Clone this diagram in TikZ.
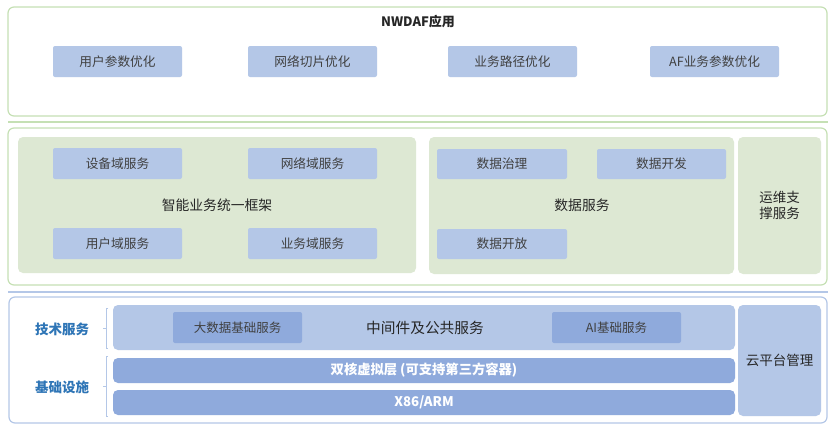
\documentclass[tikz,border=0pt]{standalone}
\usepackage{fontspec}
\setmainfont{Noto Sans CJK SC}
\definecolor{bluelt}{HTML}{B4C7E7}
\definecolor{bluemid}{HTML}{8FAADC}
\definecolor{greenfill}{HTML}{DDE8D3}
\definecolor{greenline}{HTML}{C5E0B4}
\definecolor{blueline}{HTML}{B4C7E7}
\definecolor{labelblue}{HTML}{2E75B6}
\definecolor{txt}{HTML}{404040}
\definecolor{txtdark}{HTML}{262626}
\begin{document}
\begin{tikzpicture}[x=1pt,y=-1pt,
  panel/.style={draw=#1, line width=1.2pt, fill=white, rounded corners=6pt, inner sep=0pt},
  bbox/.style={fill=bluelt, rounded corners=2pt, minimum width=129pt, minimum height=31pt, inner sep=0pt, text=txt, font=\fontsize{12.7}{14}\selectfont},
  mbox/.style={fill=bluemid, rounded corners=2pt, minimum width=129pt, minimum height=31pt, inner sep=0pt, text=txt, font=\fontsize{12.5}{14}\selectfont},
  gbox/.style={fill=greenfill, rounded corners=5pt, inner sep=0pt},
  bar/.style={fill=bluemid, rounded corners=5pt, minimum width=622pt, minimum height=25pt, inner sep=0pt, text=white, font=\bfseries\fontsize{13.3}{15}\selectfont},
  ttl/.style={text=txtdark, font=\fontsize{13.8}{16}\selectfont},
  sidelbl/.style={text=labelblue, font=\bfseries\fontsize{13.5}{15}\selectfont},
  brk/.style={draw=blueline, line width=0.8pt}
]
\useasboundingbox (0,0) rectangle (836,431);
% top panel
\node[panel=greenline, minimum width=819pt, minimum height=109pt] (top) at (417.5,61.5) {};
\node[text=txtdark, font=\bfseries\fontsize{13}{15}\selectfont] (ttop) at (418,22) {NWDAF应用};
\node[bbox] (t1) at (117.5,61.5) {用户参数优化};
\node[bbox] (t2) at (312.5,61.5) {网络切片优化};
\node[bbox] (t3) at (512.5,61.5) {业务路径优化};
\node[bbox] (t4) at (714.5,61.5) {AF业务参数优化};
% separator 1
\coordinate (s1a) at (8,122); \coordinate (s1b) at (828,122);
\draw[greenline, line width=2pt] (s1a) -- (s1b);
% middle panel
\node[panel=greenline, minimum width=819pt, minimum height=157pt] (mid) at (417.5,206.5) {};
\node[gbox, minimum width=398pt, minimum height=136pt] (g1) at (217,205) {};
\node[bbox] (m1) at (117.5,163.5) {设备域服务};
\node[bbox] (m2) at (312.5,163.5) {网络域服务};
\node[bbox] (m3) at (117.5,243.5) {用户域服务};
\node[bbox] (m4) at (312.5,243.5) {业务域服务};
\node[ttl] (g1t) at (217,205) {智能业务统一框架};
\node[gbox, minimum width=305pt, minimum height=137pt] (g2) at (581.5,205.5) {};
\node[bbox, minimum width=130pt, minimum height=30pt] (d1) at (502,164) {数据治理};
\node[bbox, minimum width=129pt, minimum height=30pt] (d2) at (661.5,164) {数据开发};
\node[bbox, minimum width=130pt, minimum height=30pt] (d3) at (502,244) {数据开放};
\node[ttl] (g2t) at (582,205) {数据服务};
\node[gbox, minimum width=83pt, minimum height=137pt, align=center, text=txtdark, font=\fontsize{13.5}{16.5}\selectfont] (g3) at (779.5,205.5) {运维支\\撑服务};
% separator 2
\coordinate (s2a) at (8,292); \coordinate (s2b) at (828,292);
\draw[blueline, line width=2pt] (s2a) -- (s2b);
% bottom panel
\node[panel=blueline, minimum width=818pt, minimum height=126pt] (bot) at (418,360) {};
\node[sidelbl] (l1) at (62,329) {技术服务};
\node[sidelbl] (l2) at (62,387) {基础设施};
\draw[brk] (108,308) -- (106,308) -- (106,328) -- (103,328) (106,328) -- (106,348) -- (108,348);
\draw[brk] (108,356) -- (106,356) -- (106,386) -- (103,386) (106,386) -- (106,416) -- (108,416);
\node[fill=bluelt, rounded corners=5pt, minimum width=622pt, minimum height=45pt, inner sep=0pt] (mw) at (424,327.5) {};
\node[mbox] (bd) at (237.5,327.5) {大数据基础服务};
\node[mbox] (ai) at (616.5,327.5) {AI基础服务};
\node[text=txtdark, font=\fontsize{14.7}{17}\selectfont] (mwt) at (425,327.5) {中间件及公共服务};
\node[bar] (vl) at (424,370.5) {双核虚拟层 (可支持第三方容器)};
\node[bar] (hw) at (424,402.5) {X86/ARM};
\node[fill=bluelt, rounded corners=5pt, minimum width=83pt, minimum height=111pt, inner sep=0pt, text=txtdark, font=\fontsize{13.5}{15}\selectfont] (cloud) at (779.5,360.5) {云平台管理};
\end{tikzpicture}
\end{document}
